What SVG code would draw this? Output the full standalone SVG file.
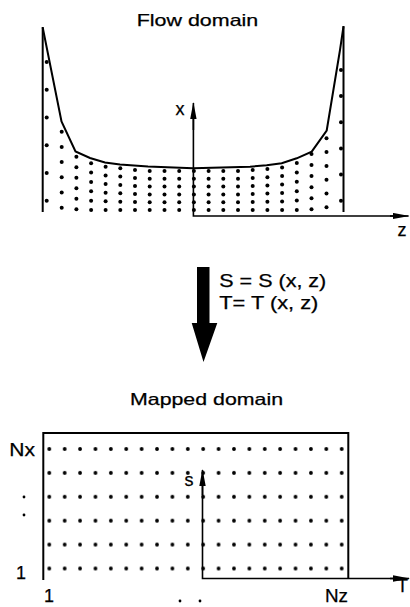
<svg xmlns="http://www.w3.org/2000/svg" width="410" height="607" viewBox="0 0 410 607">
<style>
text{font-family:"Liberation Sans",Arial,Helvetica,sans-serif;fill:#000;stroke:#000;stroke-width:0.25}
.ttl{font-size:16.5px}
.lbl{font-size:18px}
.eq{font-size:18px}
.wall{fill:none;stroke:#000;stroke-width:2}
.ax{fill:none;stroke:#000;stroke-width:1.6}
.dots circle{fill:#000}
</style>
<defs>
<marker id="ah" markerUnits="userSpaceOnUse" markerWidth="17" markerHeight="7" refX="16" refY="3.5" orient="auto">
<path d="M0,0.3 L17,3.5 L0,6.7 Z" fill="#000"/>
</marker>
<pattern id="grid" patternUnits="userSpaceOnUse" x="41.6" y="437.05" width="15.39" height="23.9">
<circle cx="7.695" cy="11.95" r="1.9" fill="#000"/>
</pattern>
</defs>

<g id="flow-domain">
<text class="ttl" x="136.7" y="26" textLength="121.6" lengthAdjust="spacingAndGlyphs">Flow domain</text>
<line class="wall" x1="42.7" y1="27" x2="42.7" y2="212"/>
<line class="wall" x1="343.5" y1="26" x2="343.5" y2="212"/>
<polyline class="wall" stroke-width="1.8" points="42.7,27.5 61.5,121.5 75.5,151.5 90,158 105,162.5 120,164.5 148,166.5 193,168.3 250,166.7 266.7,165.3 281.7,163.3 296.7,158.3 311.7,151.7 326.7,130.5 340,50 343.5,26.5"/>
<g class="dots">
<circle cx="46.7" cy="62" r="2"/><circle cx="46.7" cy="89.7" r="2"/><circle cx="46.7" cy="117.5" r="2"/><circle cx="46.7" cy="145.2" r="2"/><circle cx="46.7" cy="173" r="2"/><circle cx="46.7" cy="200.7" r="2"/>
<circle cx="61.7" cy="131.7" r="2"/><circle cx="61.7" cy="146.9" r="2"/><circle cx="61.7" cy="162.1" r="2"/><circle cx="61.7" cy="177.3" r="2"/><circle cx="61.7" cy="192.5" r="2"/><circle cx="61.7" cy="207.7" r="2"/>
<circle cx="76.4" cy="156.7" r="2"/><circle cx="76.4" cy="167.2" r="2"/><circle cx="76.4" cy="177.7" r="2"/><circle cx="76.4" cy="188.3" r="2"/><circle cx="76.4" cy="198.8" r="2"/><circle cx="76.4" cy="209.3" r="2"/>
<circle cx="91.1" cy="163.3" r="2"/><circle cx="91.1" cy="172.6" r="2"/><circle cx="91.1" cy="182" r="2"/><circle cx="91.1" cy="191.3" r="2"/><circle cx="91.1" cy="200.7" r="2"/><circle cx="91.1" cy="210" r="2"/>
<circle cx="105.6" cy="166.7" r="2"/><circle cx="105.6" cy="175.4" r="2"/><circle cx="105.6" cy="184" r="2"/><circle cx="105.6" cy="192.7" r="2"/><circle cx="105.6" cy="201.3" r="2"/><circle cx="105.6" cy="210" r="2"/>
<circle cx="120.3" cy="168.3" r="2"/><circle cx="120.3" cy="176.6" r="2"/><circle cx="120.3" cy="185" r="2"/><circle cx="120.3" cy="193.3" r="2"/><circle cx="120.3" cy="201.7" r="2"/><circle cx="120.3" cy="210" r="2"/>
<circle cx="135" cy="170" r="2"/><circle cx="135" cy="178" r="2"/><circle cx="135" cy="186" r="2"/><circle cx="135" cy="194" r="2"/><circle cx="135" cy="202" r="2"/><circle cx="135" cy="210" r="2"/>
<circle cx="149.7" cy="171" r="2"/><circle cx="149.7" cy="178.8" r="2"/><circle cx="149.7" cy="186.6" r="2"/><circle cx="149.7" cy="194.4" r="2"/><circle cx="149.7" cy="202.2" r="2"/><circle cx="149.7" cy="210" r="2"/>
<circle cx="164.5" cy="171" r="2"/><circle cx="164.5" cy="178.8" r="2"/><circle cx="164.5" cy="186.6" r="2"/><circle cx="164.5" cy="194.4" r="2"/><circle cx="164.5" cy="202.2" r="2"/><circle cx="164.5" cy="210" r="2"/>
<circle cx="179.2" cy="171" r="2"/><circle cx="179.2" cy="178.8" r="2"/><circle cx="179.2" cy="186.6" r="2"/><circle cx="179.2" cy="194.4" r="2"/><circle cx="179.2" cy="202.2" r="2"/><circle cx="179.2" cy="210" r="2"/>
<circle cx="193.9" cy="171" r="2"/><circle cx="193.9" cy="178.8" r="2"/><circle cx="193.9" cy="186.6" r="2"/><circle cx="193.9" cy="194.4" r="2"/><circle cx="193.9" cy="202.2" r="2"/><circle cx="193.9" cy="210" r="2"/>
<circle cx="208.6" cy="171" r="2"/><circle cx="208.6" cy="178.8" r="2"/><circle cx="208.6" cy="186.6" r="2"/><circle cx="208.6" cy="194.4" r="2"/><circle cx="208.6" cy="202.2" r="2"/><circle cx="208.6" cy="210" r="2"/>
<circle cx="223.3" cy="171" r="2"/><circle cx="223.3" cy="178.8" r="2"/><circle cx="223.3" cy="186.6" r="2"/><circle cx="223.3" cy="194.4" r="2"/><circle cx="223.3" cy="202.2" r="2"/><circle cx="223.3" cy="210" r="2"/>
<circle cx="238" cy="171" r="2"/><circle cx="238" cy="178.8" r="2"/><circle cx="238" cy="186.6" r="2"/><circle cx="238" cy="194.4" r="2"/><circle cx="238" cy="202.2" r="2"/><circle cx="238" cy="210" r="2"/>
<circle cx="252.7" cy="170" r="2"/><circle cx="252.7" cy="178" r="2"/><circle cx="252.7" cy="186" r="2"/><circle cx="252.7" cy="194" r="2"/><circle cx="252.7" cy="202" r="2"/><circle cx="252.7" cy="210" r="2"/>
<circle cx="267.4" cy="169" r="2"/><circle cx="267.4" cy="177.2" r="2"/><circle cx="267.4" cy="185.4" r="2"/><circle cx="267.4" cy="193.6" r="2"/><circle cx="267.4" cy="201.8" r="2"/><circle cx="267.4" cy="210" r="2"/>
<circle cx="282.1" cy="167.5" r="2"/><circle cx="282.1" cy="176" r="2"/><circle cx="282.1" cy="184.5" r="2"/><circle cx="282.1" cy="193" r="2"/><circle cx="282.1" cy="201.5" r="2"/><circle cx="282.1" cy="210" r="2"/>
<circle cx="296.8" cy="163" r="2"/><circle cx="296.8" cy="172.4" r="2"/><circle cx="296.8" cy="181.8" r="2"/><circle cx="296.8" cy="191.2" r="2"/><circle cx="296.8" cy="200.6" r="2"/><circle cx="296.8" cy="210" r="2"/>
<circle cx="311.5" cy="154" r="2"/><circle cx="311.5" cy="165.1" r="2"/><circle cx="311.5" cy="176.1" r="2"/><circle cx="311.5" cy="187.2" r="2"/><circle cx="311.5" cy="198.2" r="2"/><circle cx="311.5" cy="209.3" r="2"/>
<circle cx="326.5" cy="138.3" r="2"/><circle cx="326.5" cy="152.1" r="2"/><circle cx="326.5" cy="165.9" r="2"/><circle cx="326.5" cy="179.7" r="2"/><circle cx="326.5" cy="193.5" r="2"/><circle cx="326.5" cy="207.3" r="2"/>
<circle cx="341" cy="70" r="2"/><circle cx="341" cy="96.1" r="2"/><circle cx="341" cy="122.3" r="2"/><circle cx="341" cy="148.4" r="2"/><circle cx="341" cy="174.6" r="2"/><circle cx="341" cy="200.7" r="2"/>
</g>
<polyline class="ax" points="193.4,110 193.4,216 400,216"/>
<line class="ax" x1="193.4" y1="130" x2="193.4" y2="103" marker-end="url(#ah)"/>
<line class="ax" x1="390" y1="216" x2="408.5" y2="216" marker-end="url(#ah)"/>
<text class="lbl" x="175.5" y="114.5">x</text>
<text class="lbl" x="397.5" y="235.5">z</text>
</g>

<g id="connectors">
<polygon points="197,267 209.5,267 209.5,323 217.3,323 203.5,362 191.7,323 197,323" fill="#000"/>
<text class="eq" x="219.3" y="286.5" textLength="107" lengthAdjust="spacingAndGlyphs">S = S (x, z)</text>
<text class="eq" x="219.3" y="309" textLength="99" lengthAdjust="spacingAndGlyphs">T= T (x, z)</text>
</g>

<g id="mapped-domain">
<text class="ttl" x="130" y="405" textLength="153" lengthAdjust="spacingAndGlyphs">Mapped domain</text>
<polyline class="wall" points="43.3,580 43.3,433 348.3,433 348.3,578.5"/>
<rect x="41.6" y="437.05" width="307.8" height="143.4" fill="url(#grid)"/>
<polyline class="ax" points="202.5,480 202.5,578.5 400,578.5"/>
<line class="ax" x1="202.5" y1="495" x2="202.5" y2="470" marker-end="url(#ah)"/>
<line class="ax" x1="390" y1="578.5" x2="409" y2="578.5" marker-end="url(#ah)"/>
<text class="lbl" x="184.5" y="485.5">s</text>
<text class="lbl" x="9.3" y="455.5" textLength="25.7" lengthAdjust="spacingAndGlyphs">Nx</text>
<circle cx="24" cy="497" r="1.4"/>
<circle cx="24" cy="515" r="1.4"/>
<text class="lbl" x="16" y="579">1</text>
<text class="lbl" x="44" y="602">1</text>
<circle cx="180" cy="601" r="1.4"/>
<circle cx="200" cy="601" r="1.4"/>
<text class="lbl" x="325" y="602" textLength="23" lengthAdjust="spacingAndGlyphs">Nz</text>
<text class="lbl" x="397" y="592">T</text>
</g>
</svg>
